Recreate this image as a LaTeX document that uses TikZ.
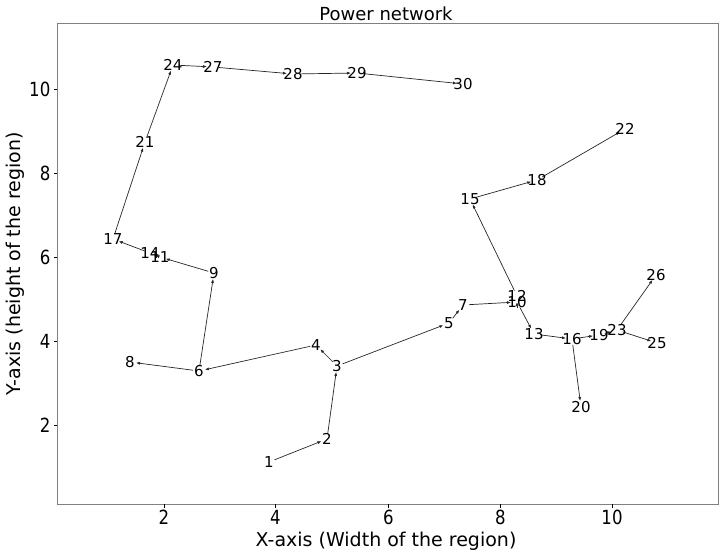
\documentclass[tikz,border=0pt]{standalone}
\usepackage{fontspec}
\setmainfont{DejaVu Sans}
\newfontfamily\tickfont[FakeStretch=0.85]{DejaVu Sans}
\usetikzlibrary{arrows.meta}
\begin{document}
\begin{tikzpicture}[x=1pt,y=-1pt,
  lbl/.style={font=\fontsize{15}{15}\selectfont, inner sep=0pt},
  edge/.style={draw=black!85, line width=0.7pt, -{Latex[length=4pt,width=3pt]}, shorten >=6pt, shorten <=6pt},
  tickmark/.style={draw=black, line width=0.8pt},
  ticklbl/.style={font=\tickfont\fontsize{19.5}{19.5}\selectfont, inner sep=0pt},
  axlbl/.style={font=\fontsize{19}{19}\selectfont, inner sep=0pt},
  titlelbl/.style={font=\fontsize{18}{18}\selectfont, inner sep=0pt},
  frame/.style={draw=black!50, line width=1pt}]
\useasboundingbox (0,0) rectangle (720,556);
\draw[frame] (57,24) rectangle (718,504);
\node[titlelbl] (title) at (386,14) {Power network};
\node[axlbl] (xlabel) at (386,541) {X-axis (Width of the region)};
\node[axlbl, rotate=90] (ylabel) at (15,264) {Y-axis (height of the region)};
\foreach \v/\p in {2/164,4/275.5,6/388.5,8/500.5,10/612}{
  \draw[tickmark] (\p,504) -- (\p,507.5);
  \node[ticklbl, anchor=north] at (\p,510) {\v};
}
\foreach \v/\p in {2/425,4/341,6/257,8/173,10/89}{
  \draw[tickmark] (57,\p) -- (53.5,\p);
  \node[ticklbl, anchor=east] at (50.5,\p) {\v};
}
% node positions
\foreach \n/\x/\y in {1/269/462, 2/327/439, 3/337/366, 4/316/345, 5/449/323,
  6/199/371, 7/463/305, 8/130/362, 9/214/273, 10/517/302, 11/160/257,
  12/517/296, 13/534/334, 14/150/253, 15/470/199, 16/572/339, 17/113/239,
  18/537/180, 19/599/335, 20/581/407, 21/145/142, 22/625/129, 23/617/330,
  24/173/65, 25/657/343, 26/656/275, 27/213/67, 28/293/74, 29/357/73, 30/463/84}{
  \coordinate (p\n) at (\x,\y);
}
\foreach \a/\b in {1/2, 2/3, 3/4, 3/5, 4/6, 6/8, 6/9, 9/11, 11/14, 14/17, 17/21,
  21/24, 24/27, 27/28, 28/29, 29/30, 5/7, 7/10, 10/12, 12/15, 15/18, 18/22,
  10/13, 13/16, 16/19, 16/20, 19/23, 23/25, 23/26}{
  \draw[edge] (p\a) -- (p\b);
}
\foreach \n in {1,...,30}{
  \node[lbl] (n\n) at (p\n) {\n};
}
\end{tikzpicture}
\end{document}
